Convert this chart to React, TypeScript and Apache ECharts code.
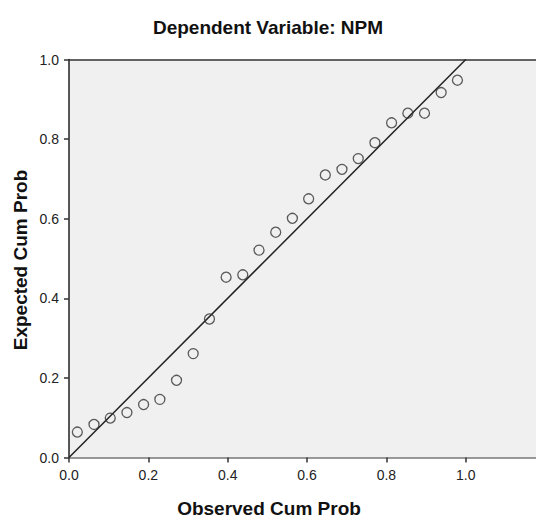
import React, { useEffect, useRef } from "react";
import * as echarts from "echarts";

const observedCumProb = [
  0.021, 0.063, 0.104, 0.146, 0.188, 0.229, 0.271, 0.313, 0.354, 0.396, 0.438, 0.479,
  0.521, 0.563, 0.604, 0.646, 0.688, 0.729, 0.771, 0.813, 0.854, 0.896, 0.938, 0.979,
];
const expectedCumProb = [
  0.064, 0.083, 0.099, 0.113, 0.133, 0.146, 0.194, 0.261, 0.348, 0.453, 0.459, 0.521,
  0.566, 0.601, 0.650, 0.710, 0.724, 0.751, 0.791, 0.841, 0.865, 0.865, 0.917, 0.948,
];
const tickValues = [0, 0.2, 0.4, 0.6, 0.8, 1.0];
const diagonal = [
  [0, 0],
  [1, 1],
];
const titleText = "Dependent Variable: NPM";
const xTitle = "Observed Cum Prob";
const yTitle = "Expected Cum Prob";

export default function App() {
  const ref = useRef<HTMLDivElement>(null);
  useEffect(() => {
    if (!ref.current) return;
    const chart = echarts.init(ref.current, null, { renderer: "svg" });
    const font = "Arial, 'Liberation Sans', sans-serif";
    const labelStyle = {
      color: "#222",
      fontSize: 14,
      fontFamily: font,
      formatter: (v: number) => v.toFixed(1),
      customValues: tickValues,
    };
    const bigText = { fontSize: 19, fontWeight: "bold", fontFamily: font, fill: "#111" };
    chart.setOption({
      animation: false,
      backgroundColor: "#fff",
      grid: {
        left: 69,
        top: 59.5,
        right: 0,
        bottom: 60.5,
        show: true,
        backgroundColor: "#F0F0F0",
        borderWidth: 0,
      },
      graphic: [
        {
          type: "text",
          x: 268,
          y: 27,
          style: { ...bigText, text: titleText, align: "center", verticalAlign: "middle" },
        },
        {
          type: "text",
          x: 269,
          y: 508,
          style: { ...bigText, text: xTitle, align: "center", verticalAlign: "middle" },
        },
        {
          type: "text",
          x: 20,
          y: 260,
          rotation: Math.PI / 2,
          style: { ...bigText, text: yTitle, align: "center", verticalAlign: "middle" },
        },
      ],
      xAxis: [
        {
          type: "value",
          min: 0,
          max: 1.177,
          interval: 0.2,
          splitLine: { show: false },
          axisLine: { show: true, onZero: false, lineStyle: { color: "#777", width: 1.5 } },
          axisTick: { show: true, length: 5, customValues: tickValues, lineStyle: { color: "#333", width: 1.5 } },
          axisLabel: { ...labelStyle, margin: 10 },
        },
        {
          type: "value",
          position: "top",
          min: 0,
          max: 1.177,
          splitLine: { show: false },
          axisLine: { show: true, onZero: false, lineStyle: { color: "#333", width: 1.5 } },
          axisTick: { show: false },
          axisLabel: { show: false },
        },
      ],
      yAxis: {
        type: "value",
        min: 0,
        max: 1,
        interval: 0.2,
        splitLine: { show: false },
        axisLine: { show: true, onZero: false, lineStyle: { color: "#222", width: 1.5 } },
        axisTick: { show: true, length: 5, customValues: tickValues, lineStyle: { color: "#333", width: 1.5 } },
        axisLabel: { ...labelStyle, margin: 10 },
      },
      series: [
        {
          type: "line",
          data: diagonal,
          symbol: "none",
          lineStyle: { color: "#222", width: 1.5 },
          silent: true,
          z: 2,
        },
        {
          type: "scatter",
          data: observedCumProb.map((x, i) => [x, expectedCumProb[i]]),
          symbol: "circle",
          symbolSize: 10,
          itemStyle: { color: "rgba(0,0,0,0)", borderColor: "#333", borderWidth: 1.3 },
          z: 3,
        },
      ],
    });
    return () => chart.dispose();
  }, []);
  return (
    <div
      ref={ref}
      style={{ position: "absolute", left: 0, top: 0, width: 536, height: 518 }}
    />
  );
}
